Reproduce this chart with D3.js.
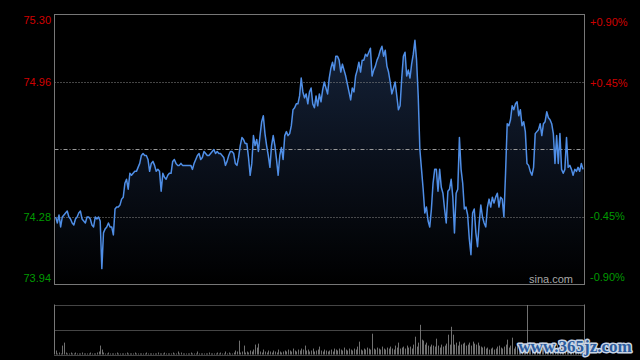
<!DOCTYPE html>
<html><head><meta charset="utf-8">
<script src="https://cdn.jsdelivr.net/npm/d3@7"></script>
<style>html,body{margin:0;padding:0;background:#000;}svg{display:block;}</style>
</head><body>
<svg id="chart" width="640" height="360"></svg>
<script>
const prevClose = 74.62;
const priceTicks = [75.30, 74.96, 74.28, 73.94];
const pctTicks = [0.90, 0.45, -0.45, -0.90];
const gridPrices = [74.96, 74.28];
const prices = [
74.28,74.25,74.29,74.23,74.28,74.29,74.30,74.31,74.28,74.27,
74.25,74.24,74.27,74.28,74.30,74.31,74.27,74.26,74.25,74.28,
74.28,74.27,74.24,74.23,74.28,74.27,74.28,74.26,74.02,74.20,
74.22,74.23,74.25,74.23,74.23,74.19,74.32,74.33,74.33,74.34,
74.37,74.38,74.45,74.47,74.42,74.50,74.49,74.50,74.51,74.51,
74.53,74.55,74.59,74.60,74.59,74.59,74.57,74.51,74.55,74.56,
74.54,74.51,74.52,74.51,74.41,74.50,74.48,74.47,74.49,74.50,
74.50,74.56,74.57,74.55,74.54,74.54,74.55,74.54,
74.54,74.54,74.54,74.54,74.54,74.52,74.55,74.57,74.59,74.60,
74.57,74.58,74.61,74.60,74.59,74.59,74.60,74.61,74.62,74.60,
74.61,74.60,74.60,74.59,74.58,74.54,74.56,74.59,74.61,74.61,
74.60,74.55,74.54,74.58,74.64,74.68,74.67,74.65,74.65,74.58,
74.49,74.55,74.69,74.64,74.67,74.61,74.69,74.76,74.79,74.70,
74.64,74.59,74.53,74.64,74.69,74.64,74.57,74.49,74.59,74.63,
74.57,74.69,74.71,74.69,74.70,74.74,74.82,74.83,74.85,74.85,
74.89,74.98,74.91,74.88,74.90,74.85,74.91,74.93,74.85,74.83,74.89,
74.84,74.90,74.86,74.92,74.96,74.93,74.90,74.98,75.03,75.06,
75.02,75.09,75.09,75.07,75.01,75.05,75.02,74.99,74.95,74.91,
74.87,74.93,74.91,74.99,75.02,75.06,75.01,75.07,75.07,75.10,
75.09,75.11,75.13,74.99,75.02,75.04,75.07,75.09,75.12,75.14,
75.09,75.12,75.04,75.01,74.96,74.90,74.93,74.96,74.89,74.82,
74.84,74.98,75.09,75.11,74.99,75.02,74.98,75.05,75.10,75.17,
75.07,74.89,74.62,74.52,74.42,74.30,74.33,74.26,74.23,74.32,
74.45,74.52,74.52,74.41,74.52,74.43,74.40,74.32,74.25,74.41,
74.42,74.47,74.38,74.20,74.40,74.42,74.68,74.52,74.45,74.32,
74.33,74.29,74.17,74.09,74.30,74.32,74.20,74.13,74.25,74.34,
74.28,74.25,74.23,74.33,74.37,74.33,74.38,74.35,74.38,74.40,
74.33,74.38,74.37,74.28,74.50,74.75,74.74,74.77,74.84,74.82,
74.85,74.86,74.79,74.82,74.74,74.76,74.71,74.55,74.54,74.51,
74.49,74.53,74.70,74.71,74.72,74.75,74.69,74.75,74.76,74.81,
74.78,74.77,74.75,74.70,74.55,74.69,74.55,74.70,74.52,74.50,
74.52,74.68,74.53,74.54,74.52,74.49,74.52,74.51,74.53,74.51,
74.55,74.52
];
const volumes = [
4,1,2,1,9,12,2,1,1,2, 1,1,2,1,1,1,2,1,1,1, 1,2,1,1,1,2,3,9,5,2,
1,1,2,1,1,1,1,2,1,1, 1,1,1,2,1,1,1,1,2,1, 1,1,1,1,1,2,1,1,1,1,
1,1,2,1,1,1,2,1,1,1, 1,2,1,1,3,1,2,1,1,1, 1,1,2,1,1,1,3,1,1,1,
1,1,1,2,1,1,1,1,2,1, 2,1,1,3,1,2,1,1,2,4, 3,14,2,3,9,2,3,2,4,3,
5,10,7,11,3,2,5,3,2,4, 3,2,4,3,2,5,3,2,3,4, 3,5,4,3,6,4,3,5,4,6,
5,9,4,5,3,4,6,3,4,5, 8,4,3,5,4,3,4,5,3,6, 5,4,6,5,4,7,5,4,6,5,
4,6,5,8,13,5,4,6,5,7, 6,5,21,6,5,7,6,5,8,6, 5,7,6,8,6,5,9,7,12,6,
7,8,6,9,7,8,6,10,18,8, 12,30,15,14,10,12,9,8,10,9, 8,16,9,7,10,8,9,11,20,10,
28,20,10,12,9,13,10,11,12,9, 10,12,9,13,11,10,12,9,8,7, 8,6,7,5,6,7,5,6,8,9,
7,6,8,10,15,7,9,17,6,8, 10,8,11,9,8,10,50,12,9,10, 8,7,9,12,8,6,10,7,8,11,
9,6,8,7,10,6,5,8,6,7, 9,6,7,5,8,6,7,5,6,4,5
];

const svg = d3.select("#chart");
const L = 54.5, R = 584.5, T = 14.5, B = 284.5;
const VT = 304.5, VB = 354.5;

const x = d3.scaleLinear().domain([0, prices.length - 1]).range([55.7, 583]);
const y = d3.scaleLinear().domain([73.94, 75.30]).range([B, T]);
const yv = d3.scaleLinear().domain([0, 50]).range([VB, VT + 0.5]);

const defs = svg.append("defs");
const grad = defs.append("linearGradient").attr("id", "fillg")
  .attr("gradientUnits", "userSpaceOnUse").attr("x1", 0).attr("x2", 0).attr("y1", T).attr("y2", B);
grad.append("stop").attr("offset", 0).attr("stop-color", "#17263f");
grad.append("stop").attr("offset", 0.55).attr("stop-color", "#0a101b");
grad.append("stop").attr("offset", 1).attr("stop-color", "#000000");

svg.append("path").datum(prices)
  .attr("d", d3.area().x((d, i) => x(i)).y0(B).y1(d => y(d)))
  .attr("fill", "url(#fillg)");

svg.selectAll(".grid").data(gridPrices).join("line")
  .attr("x1", L).attr("x2", R)
  .attr("y1", d => Math.round(y(d)) + 0.5).attr("y2", d => Math.round(y(d)) + 0.5)
  .attr("stroke", "#8a8a8a").attr("stroke-width", 1).attr("stroke-dasharray", "1,2");
svg.append("line")
  .attr("x1", L).attr("x2", R)
  .attr("y1", Math.round(y(prevClose)) + 0.5).attr("y2", Math.round(y(prevClose)) + 0.5)
  .attr("stroke", "#9a9a9a").attr("stroke-width", 1).attr("stroke-dasharray", "4,2,1,2");

svg.append("path").datum(prices)
  .attr("d", d3.line().x((d, i) => x(i)).y(d => y(d)))
  .attr("fill", "none").attr("stroke", "#4f8ee6").attr("stroke-width", 1.5)
  .attr("stroke-linejoin", "round");

svg.append("rect").attr("x", L).attr("y", T).attr("width", R - L).attr("height", B - T)
  .attr("fill", "none").attr("stroke", "#777").attr("stroke-width", 1);

const fmt = v => v.toFixed(2);
svg.selectAll(".pl").data(priceTicks).join("text")
  .attr("x", 51).attr("y", (d, i) => y(d) + (i === 0 ? 6 : i === priceTicks.length - 1 ? -6 : 0))
  .attr("dy", "0.36em").attr("text-anchor", "end")
  .attr("font-family", "Liberation Sans, Arial, sans-serif").attr("font-size", 11)
  .attr("fill", d => d > prevClose ? "#d00000" : "#009a00")
  .text(d => fmt(d));
svg.selectAll(".rl").data(pctTicks).join("text")
  .attr("x", 590).attr("y", (d, i) => y(prevClose * (1 + d / 100)) + (i === 0 ? 6 : i === pctTicks.length - 1 ? -6 : 0))
  .attr("dy", "0.36em").attr("text-anchor", "start")
  .attr("font-family", "Liberation Sans, Arial, sans-serif").attr("font-size", 11)
  .attr("fill", d => d > 0 ? "#d00000" : "#009a00")
  .text(d => (d > 0 ? "+" : "") + fmt(d) + "%");

svg.append("text").attr("x", 573).attr("y", 283).attr("text-anchor", "end")
  .attr("font-family", "Liberation Sans, Arial, sans-serif").attr("font-size", 11)
  .attr("fill", "#a8a8a8").text("sina.com");

svg.selectAll(".vb").data(volumes).join("line")
  .attr("x1", (d, i) => Math.round(x(i)) + 0.5).attr("x2", (d, i) => Math.round(x(i)) + 0.5)
  .attr("y1", VB).attr("y2", d => yv(d))
  .attr("stroke", "#707070").attr("stroke-width", 1);
[VT, (VT + VB) / 2, VB].forEach(v => {
  svg.append("line").attr("x1", L).attr("x2", R).attr("y1", Math.round(v) + 0.5).attr("y2", Math.round(v) + 0.5)
    .attr("stroke", "#8a8a8a").attr("stroke-dasharray", "1,1");
});
svg.append("line").attr("x1", L).attr("x2", L).attr("y1", VT).attr("y2", VB).attr("stroke", "#777");
svg.append("line").attr("x1", R).attr("x2", R).attr("y1", VT).attr("y2", VB).attr("stroke", "#777");

svg.append("text").attr("x", 575).attr("y", 352).attr("text-anchor", "middle")
  .attr("font-family", "Liberation Serif, serif").attr("font-weight", "bold").attr("font-size", 17)
  .attr("fill", "#2c5c9e").attr("stroke", "#c8d4e4").attr("stroke-width", 3)
  .attr("paint-order", "stroke").attr("stroke-linejoin", "round")
  .text("www.365jz.com");
</script>
</body></html>
